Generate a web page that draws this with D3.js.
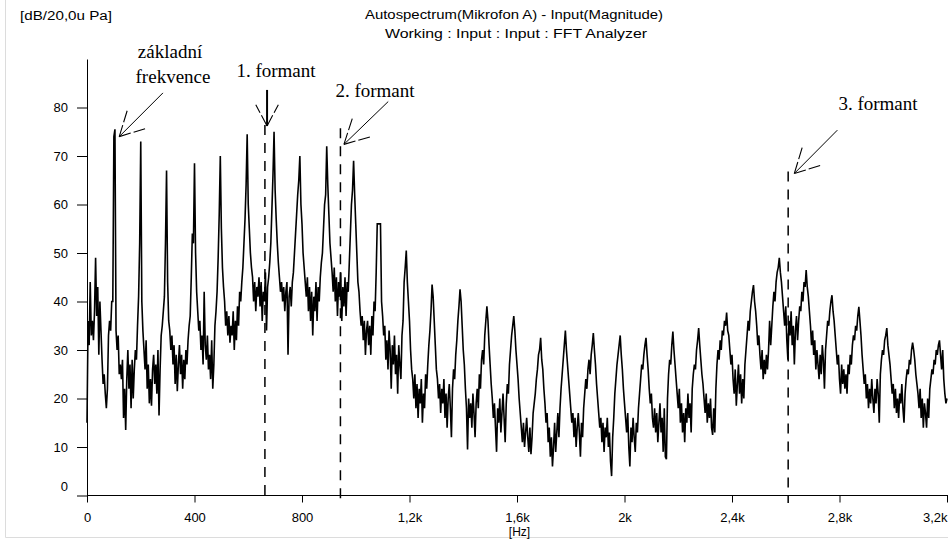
<!DOCTYPE html>
<html><head><meta charset="utf-8">
<script src="https://cdn.jsdelivr.net/npm/d3@7"></script>
<style>html,body{margin:0;padding:0;background:#fff;overflow:hidden}</style>
</head><body><svg id="chart" width="948" height="539"></svg>
<script>
// ---------- DATA ----------
const binHz = 4; // FFT line spacing (Hz)
const magnitudeDb = [
15,36,31,44,33,36,32,38,49,37,43,29,40,34,28,23,25,21,18,22,33,36,34,40,40,74,75.5,34,
30,33,25,27,24,28,16,22,13.5,24,30,22,27,18,28,20,26,30,28,35,41,52,73,40,34,
30,26,32,22,27,19,24,18.5,26,29,23,27,21,30,16.5,26,33,35,38,41,52,67,44,36,
34,30,33,27,31,23,29,21.5,27,31,25,29,22,28,24,30,27,32,35,37,45,54,52,68.5,50,42,38,
34,36,30,33,27,42,31,28,33,26,29,24,32,22,27,35,38,42,49,58,70,55,47,43,
40,35,38,33,37,31.5,35,33,38,30,36,32,39,35,42,40,44,47,52,57,64,74.5,60,55,
50,47,45,40,44,38,43,41,45,39,44,36,42,40,46,34,43,45,48,52,59,66,75,63,57,
52,48,45,42,44,40,43,38,42,44,29,41,43,39,44,46,50,54,58,62,65,70,60,56,
50,47,44,41,45,38,43,36,42,33,41,38,44,36,43,40,45,48,50,55,60,62,72,64,58,
52,49,46,42,47,40,45,37,44,41,46,36,43,39,45,37,44,42,48,54,60,63,69,62,56,
50,44,42,38,35,37,32,36,29,34,36,31,35,29,37,33,40,38,46,56,56,56,56,40,37,33,35,28,32,26,34,30,22,31,27,33,25,29,21,31,27,24,33,36,44,47,50.5,44,40,
36,30,26,24,20,25,18,23,16,22,19,24,15,21,18,25,22,27,31,34,38,43.5,41,36,
31,26,24,20,23,17,22,19,24,16,21,14,20,23,18,12,22,26,24,29,32,36,39,42.5,40,35,
30,27,22,18,9.5,20,16,19,14,21,17,12,19,22,18,25,22,28,30,27,33,36,39,36,31,
27,23,20,16,19,14,9,18,15,20,13,17,21,16,11,19,23,21,27,30,33,35,37,34,30,
27,24,20,17,14,11,15,10,13,16,12,9,14,8.5,12,17,19,21,24,26,29,30,32.5,28,26,
22,19,15,17,11,14,8,12,6,10,15,9,13,17,12,18,22,25,28,31,34,30,27,
24,21,18,15,17,12,16,10,14,17,13,8,15,12,18,21,24,22,26,28,25,29,31,33.5,30,27,
23,20,17,14,16,11,15,9,14,12,16,10,13,7,4,12,16,21,24,27,29,31,33,29,26,
22,19,16,13,17,10,6,14,11,16,12,9,15,13,18,21,24,27,26,29,31,32.5,29,26,
22,19,21,16,14,18,13,17,11,15,19,13,16,9,18,8,7.5,20,25,28,27,31,33.8,30,27,
24,21,18,22,15,19,13,17,11,18,15,21,16,19,13,22,25,27,26,30,32,34.5,31,28,
25,23,20,17,21,15,19,16,20,14,12.5,18,13,22,27,30,28,32,30,34,33,36,35,37.7,34,
33,30,27,29,24,21,26,18.5,23,27,21,25,19,24,20,27,30,33,36,34,38,40,42,43.4,40,38,
35,31,33,29,26,30,24,28,25,29,26,30,36,31,35,39,42,40,44,46,47,49,46,44,
41,38,35,39,32,28,36,33,38,31,35,27,34,37,32,36,39,38,42,40,44,43,46.5,43,41,
38,35,31,34,29,32,26,30,27,24,29,25,31,28,22,30,33,36,35,38,40,41.3,38,36,
33,30,27,29,24,21,27,23,26,22,25,21,27,25,29,27,31,33,32,35,34,37,38.9,36,33,
29,26,23,25,20,23,18,22,19,24,20,17,22,19,24,21,15,25,28,30,29,32,33,34.5,31,29,
27,24,21,23,18,22,17,20,16,21,19,23,18,15,21,24,26,25,28,27,30,31.5,30,28,
25,23,21,18,22,16,20,14,19,17,14,20,16,22,24,26,25,28,27,30,29,31,32,29,26,30,24,21,19,20
];
const xTickValues = [0, 400, 800, 1200, 1600, 2000, 2400, 2800, 3200];
const xTickLabels = ["0", "400", "800", "1,2k", "1,6k", "2k", "2,4k", "2,8k", "3,2k"];
const yTickValues = [0, 10, 20, 30, 40, 50, 60, 70, 80];
const formantHz = [662, 943, 2609];
const formantTopDb = [76.4, 75.7, 66.8];
const arrowTipHz = [120, 670, 956, 2632];
const arrowTipDb = [74.0, 76.2, 72.4, 66.4];
const titleLines = ["Autospectrum(Mikrofon A) - Input(Magnitude)", "Working : Input : Input : FFT Analyzer"];
const yUnit = "[dB/20,0u Pa]";
const xUnit = "[Hz]";

// ---------- DRAW ----------
const svg = d3.select("#chart");
const x = d3.scaleLinear().domain([0, 3200]).range([87, 947]);
const y = d3.scaleLinear().domain([0, 90]).range([495.5, 59]);

svg.append("path").attr("d", "M5.5,0V537.5H948")
  .attr("fill", "none").attr("stroke", "#dcdcdc");

const sans = "'Liberation Sans', Arial, sans-serif";
const serif = "'Liberation Serif', 'Times New Roman', serif";

// titles
svg.append("text").attr("x", 514).attr("y", 19).attr("text-anchor", "middle")
  .attr("font-family", sans).attr("font-size", 12).attr("textLength", 298).attr("lengthAdjust", "spacingAndGlyphs")
  .text(titleLines[0]);
svg.append("text").attr("x", 516).attr("y", 38).attr("text-anchor", "middle")
  .attr("font-family", sans).attr("font-size", 12).attr("textLength", 262).attr("lengthAdjust", "spacingAndGlyphs")
  .text(titleLines[1]);
svg.append("text").attr("x", 20).attr("y", 20)
  .attr("font-family", sans).attr("font-size", 12).attr("textLength", 92).attr("lengthAdjust", "spacingAndGlyphs")
  .text(yUnit);

// y axis
const yAxis = d3.axisLeft(y).tickValues(yTickValues).tickSize(10).tickSizeOuter(0).tickPadding(9);
const gy = svg.append("g").attr("transform", "translate(87,0)").call(yAxis);
gy.selectAll("text").attr("font-family", sans).attr("font-size", 13).attr("fill", "#000");
gy.selectAll("line,path").attr("stroke", "#000");
gy.selectAll(".tick").filter(d => d === 0).select("text").attr("dy", "-0.38em");

// x axis
const xAxis = d3.axisBottom(x).tickValues(xTickValues).tickSize(7).tickSizeOuter(0).tickPadding(10)
  .tickFormat((d, i) => xTickLabels[i]);
const gx = svg.append("g").attr("transform", "translate(0,495.5)").call(xAxis);
gx.selectAll("text").attr("font-family", sans).attr("font-size", 13).attr("fill", "#000");
gx.selectAll("line,path").attr("stroke", "#000");
gx.select(".domain").attr("d", "M87,0H948");
gx.selectAll(".tick").filter(d => d === 3200).select("text").attr("text-anchor", "end").attr("x", 0);

svg.append("text").attr("x", 519.5).attr("y", 536).attr("text-anchor", "middle")
  .attr("font-family", sans).attr("font-size", 12).text(xUnit);

// formant dashed lines
svg.selectAll(".formant").data(formantHz).enter().append("line")
  .attr("x1", d => x(d)).attr("x2", d => x(d))
  .attr("y1", (d, i) => y(formantTopDb[i])).attr("y2", 503)
  .attr("stroke", "#000").attr("stroke-width", 1.5).attr("stroke-dasharray", "10,8");

// spectrum
const line = d3.line().x((d, i) => x(i * binHz)).y(d => y(d));
svg.append("path").datum(magnitudeDb).attr("d", line)
  .attr("fill", "none").attr("stroke", "#000").attr("stroke-width", 1.6).attr("stroke-linejoin", "miter")
  .attr("stroke-miterlimit", 3);

// arrows
const tailOffsets = [[43.7, -43.7], [0, -36], [44.3, -42.8], [43, -43.3]];
const shaftWidth = [1, 2, 1, 1];
arrowTipHz.forEach((hz, i) => {
  const tx = x(hz), ty = y(arrowTipDb[i]);
  const [ox, oy] = tailOffsets[i];
  svg.append("line").attr("x1", tx + ox).attr("y1", ty + oy).attr("x2", tx).attr("y2", ty)
    .attr("stroke", "#000").attr("stroke-width", shaftWidth[i]);
  const ang = Math.atan2(oy, ox);
  const L = i === 1 ? 24 : 27.5, half = 28 * Math.PI / 180;
  [-1, 1].forEach(s => {
    svg.append("line").attr("x1", tx).attr("y1", ty)
      .attr("x2", tx + L * Math.cos(ang + s * half)).attr("y2", ty + L * Math.sin(ang + s * half))
      .attr("stroke", "#000").attr("stroke-width", 1.1).attr("stroke-dasharray", "12,3");
  });
});

// annotation labels
const ann = [
  ["základní", 170, 58], ["frekvence", 173, 83], ["1. formant", 276, 77],
  ["2. formant", 375, 97], ["3. formant", 878, 110]
];
ann.forEach(a => svg.append("text").attr("x", a[1]).attr("y", a[2]).attr("text-anchor", "middle")
  .attr("font-family", serif).attr("font-size", 19).attr("fill", "#000").text(a[0]));
</script></body></html>
